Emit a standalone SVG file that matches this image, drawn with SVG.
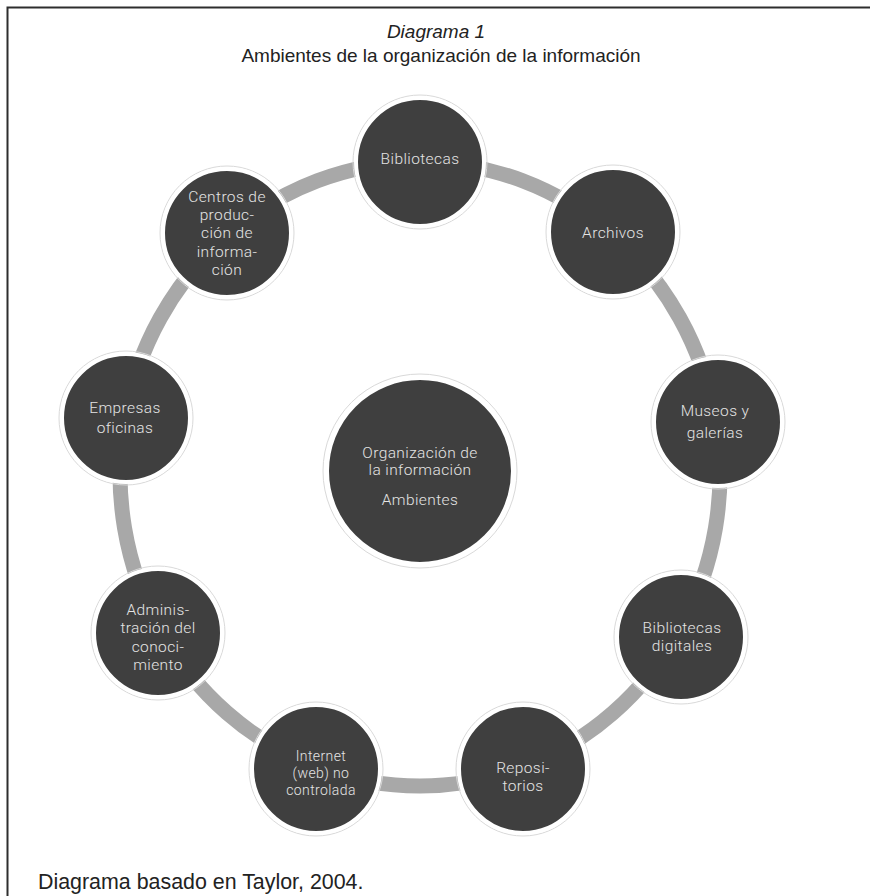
<svg xmlns="http://www.w3.org/2000/svg" width="870" height="896" viewBox="0 0 870 896">
<style>
.frame{stroke:#2e2e2e;stroke-width:2;fill:none}
.title{font-family:"Liberation Sans",Arial,sans-serif;font-size:19px;fill:#222;text-anchor:middle}
.foot{font-family:"Liberation Sans",Arial,sans-serif;font-size:21.4px;fill:#222}
.ring{fill:none;stroke:#a8a8a8;stroke-width:15}
.halo{fill:none;stroke:#d9d9d9;stroke-width:1}
.node{fill:#3f3f3f;stroke:#ffffff;stroke-width:4}
.lbl{font-family:Roboto,"Liberation Sans",sans-serif;font-weight:300;font-size:15.5px;letter-spacing:0.4px;fill:#e4e4e4;text-anchor:middle}
.sm{font-size:14px}
</style>
<rect width="870" height="896" fill="#ffffff"/>
<path class="frame" d="M7.5 896 V7.5 H870"/>
<text class="title" x="436" y="38" font-style="italic">Diagrama 1</text>
<text class="title" x="441" y="62">Ambientes de la organización de la información</text>
<g id="connectors">
<path class="ring" d="M420 162 A300 312 0 0 1 612.8 235"/>
<path class="ring" d="M612.8 235 A300 312 0 0 1 715.4 419.8"/>
<path class="ring" d="M715.4 419.8 A300 312 0 0 1 679.8 630"/>
<path class="ring" d="M679.8 630 A300 312 0 0 1 522.6 767.2"/>
<path class="ring" d="M522.6 767.2 A300 312 0 0 1 317.4 767.2"/>
<path class="ring" d="M317.4 767.2 A300 312 0 0 1 160.2 630"/>
<path class="ring" d="M160.2 630 A300 312 0 0 1 124.6 419.8"/>
<path class="ring" d="M124.6 419.8 A300 312 0 0 1 227.2 235"/>
<path class="ring" d="M227.2 235 A300 312 0 0 1 420 162"/>
</g>
<g id="center">
<circle class="halo" cx="420" cy="471" r="97"/>
<circle class="node" cx="420" cy="471" r="93"/>
<text class="lbl" x="420" y="458">Organización de</text>
<text class="lbl" x="420" y="475">la información</text>
<text class="lbl" x="420" y="505">Ambientes</text>
</g>
<g id="bibliotecas">
<circle class="halo" cx="420" cy="162" r="67"/>
<circle class="node" cx="420" cy="162" r="64"/>
<text class="lbl" x="420" y="164">Bibliotecas</text>
</g>
<g id="archivos">
<circle class="halo" cx="613" cy="232" r="67"/>
<circle class="node" cx="613" cy="232" r="64"/>
<text class="lbl" x="613" y="238">Archivos</text>
</g>
<g id="museos">
<circle class="halo" cx="718" cy="422" r="67"/>
<circle class="node" cx="718" cy="422" r="64"/>
<text class="lbl" x="715" y="416">Museos y</text>
<text class="lbl" x="715" y="438">galerías</text>
</g>
<g id="bibliotecas-digitales">
<circle class="halo" cx="681" cy="637" r="67"/>
<circle class="node" cx="681" cy="637" r="64"/>
<text class="lbl" x="682" y="633">Bibliotecas</text>
<text class="lbl" x="682" y="651">digitales</text>
</g>
<g id="repositorios">
<circle class="halo" cx="523" cy="769" r="67"/>
<circle class="node" cx="523" cy="769" r="64"/>
<text class="lbl" x="523" y="773">Reposi-</text>
<text class="lbl" x="523" y="791">torios</text>
</g>
<g id="internet">
<circle class="halo" cx="316" cy="769" r="67"/>
<circle class="node" cx="316" cy="769" r="64"/>
<text class="lbl sm" x="321" y="761">Internet</text>
<text class="lbl sm" x="321" y="778">(web) no</text>
<text class="lbl sm" x="321" y="795">controlada</text>
</g>
<g id="administracion">
<circle class="halo" cx="158" cy="633" r="67"/>
<circle class="node" cx="158" cy="633" r="64"/>
<text class="lbl" x="158" y="615">Adminis-</text>
<text class="lbl" x="158" y="633">tración del</text>
<text class="lbl" x="158" y="652">conoci-</text>
<text class="lbl" x="158" y="670">miento</text>
</g>
<g id="empresas">
<circle class="halo" cx="126" cy="418" r="67"/>
<circle class="node" cx="126" cy="418" r="64"/>
<text class="lbl" x="125" y="413">Empresas</text>
<text class="lbl" x="125" y="433">oficinas</text>
</g>
<g id="centros">
<circle class="halo" cx="227" cy="233" r="67"/>
<circle class="node" cx="227" cy="233" r="64"/>
<text class="lbl" x="227" y="202">Centros de</text>
<text class="lbl" x="227" y="220">produc-</text>
<text class="lbl" x="227" y="238">ción de</text>
<text class="lbl" x="227" y="257">informa-</text>
<text class="lbl" x="227" y="275">ción</text>
</g>
<text class="foot" x="38" y="889">Diagrama basado en Taylor, 2004.</text>
</svg>
